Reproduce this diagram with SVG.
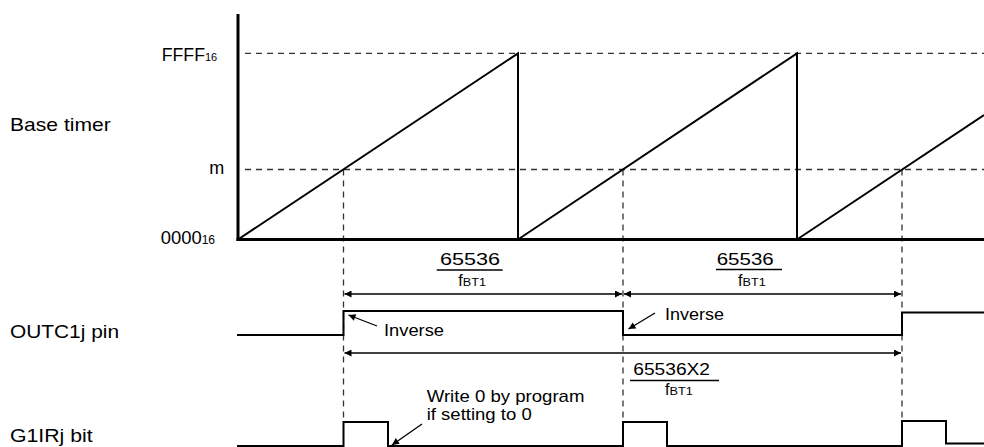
<svg xmlns="http://www.w3.org/2000/svg" width="984" height="447" viewBox="0 0 984 447">
<style>
text{font-family:"Liberation Sans",Arial,sans-serif;fill:#000}
.lbl{font-size:19px}
.sm{font-size:17px}
.num{font-size:16px}
.sub{font-size:11px}
.dash{stroke:#333;stroke-width:1.3;stroke-dasharray:6 5;fill:none}
.thick{stroke:#000;stroke-width:3;fill:none}
.sig{stroke:#000;stroke-width:2;fill:none}
.arr{stroke:#000;stroke-width:1.3;fill:none;marker-end:url(#ah)}
.dim{stroke:#000;stroke-width:1.3;fill:none;marker-start:url(#ahs);marker-end:url(#ah)}
.frac{stroke:#000;stroke-width:1.3}
</style>
<defs>
<marker id="ah" viewBox="0 0 10 10" refX="10" refY="5" markerWidth="8" markerHeight="7" markerUnits="userSpaceOnUse" orient="auto">
<path d="M0 0 L10 5 L0 10 z" fill="#000"/>
</marker>
<marker id="ahs" viewBox="0 0 10 10" refX="0" refY="5" markerWidth="8" markerHeight="7" markerUnits="userSpaceOnUse" orient="auto">
<path d="M10 0 L0 5 L10 10 z" fill="#000"/>
</marker>
</defs>

<g id="labels">
<text class="lbl" x="10" y="131" textLength="100.7" lengthAdjust="spacingAndGlyphs">Base timer</text>
<text class="lbl" x="10" y="338" textLength="109" lengthAdjust="spacingAndGlyphs">OUTC1j pin</text>
<text class="lbl" x="10" y="442" textLength="82.7" lengthAdjust="spacingAndGlyphs">G1IRj bit</text>
</g>

<g id="axis-labels">
<text x="161.7" y="60.7"><tspan font-size="18" textLength="43.3" lengthAdjust="spacingAndGlyphs">FFFF</tspan><tspan class="sub" font-size="12">16</tspan></text>
<text x="209.3" y="174.3" font-size="18">m</text>
<text x="160.7" y="244"><tspan font-size="18" textLength="41" lengthAdjust="spacingAndGlyphs">0000</tspan><tspan font-size="12">16</tspan></text>
</g>

<g id="grid">
<line class="dash" x1="245" y1="53.3" x2="984" y2="53.3"/>
<line class="dash" x1="245" y1="169.5" x2="984" y2="169.5"/>
<line class="dash" x1="343.5" y1="169.5" x2="343.5" y2="422"/>
<line class="dash" x1="623" y1="169.5" x2="623" y2="422"/>
<line class="dash" x1="902" y1="169.5" x2="902" y2="421"/>
</g>

<g id="base-timer">
<line class="thick" x1="238" y1="14" x2="238" y2="241"/>
<line class="thick" x1="236.5" y1="239.5" x2="984" y2="239.5"/>
<path class="sig" d="M238 239.5 L518 53.3 V239.5 L797 53.3 V239.5 L984 115"/>
</g>

<g id="outc1j">
<path class="sig" d="M237 335 H343.5 V311 H623 V335 H902 V312.5 H984"/>
</g>

<g id="g1irj">
<path class="sig" d="M237 446 H343.5 V422 H388 V446 H623 V422 H667 V446 H902 V421 H946 V443.5 H984"/>
</g>

<g id="connectors">
<line class="dim" x1="344.5" y1="294" x2="622" y2="294"/>
<line class="dim" x1="624" y1="294" x2="901" y2="294"/>
<line class="dim" x1="344.5" y1="353" x2="901" y2="353"/>
<line class="arr" x1="377" y1="326" x2="348.5" y2="315"/>
<line class="arr" x1="655" y1="313" x2="628.5" y2="329"/>
<line class="arr" x1="422" y1="424" x2="392" y2="445"/>
</g>

<g id="fraction1">
<text class="num" x="440" y="265" textLength="60" lengthAdjust="spacingAndGlyphs">65536</text>
<line class="frac" x1="436.7" y1="270" x2="502.7" y2="270"/>
<text x="458.3" y="286"><tspan font-size="16">f</tspan><tspan class="sub" textLength="23.3" lengthAdjust="spacingAndGlyphs">BT1</tspan></text>
</g>

<g id="fraction2">
<text class="num" x="716.7" y="265" textLength="57" lengthAdjust="spacingAndGlyphs">65536</text>
<line class="frac" x1="716" y1="269.5" x2="782" y2="269.5"/>
<text x="738" y="286"><tspan font-size="16">f</tspan><tspan class="sub" textLength="23.3" lengthAdjust="spacingAndGlyphs">BT1</tspan></text>
</g>

<g id="fraction3">
<text class="num" x="633.3" y="375" textLength="76.7" lengthAdjust="spacingAndGlyphs">65536X2</text>
<line class="frac" x1="630" y1="380.5" x2="719" y2="380.5"/>
<text x="665" y="394.5"><tspan font-size="16">f</tspan><tspan class="sub" textLength="23.3" lengthAdjust="spacingAndGlyphs">BT1</tspan></text>
</g>

<g id="notes">
<text class="sm" x="384" y="335.7" textLength="60" lengthAdjust="spacingAndGlyphs">Inverse</text>
<text class="sm" x="665" y="320" textLength="59" lengthAdjust="spacingAndGlyphs">Inverse</text>
<text class="sm" x="426.7" y="401.7" textLength="157.7" lengthAdjust="spacingAndGlyphs">Write 0 by program</text>
<text class="sm" x="426.7" y="420" textLength="105" lengthAdjust="spacingAndGlyphs">if setting to 0</text>
</g>
</svg>
